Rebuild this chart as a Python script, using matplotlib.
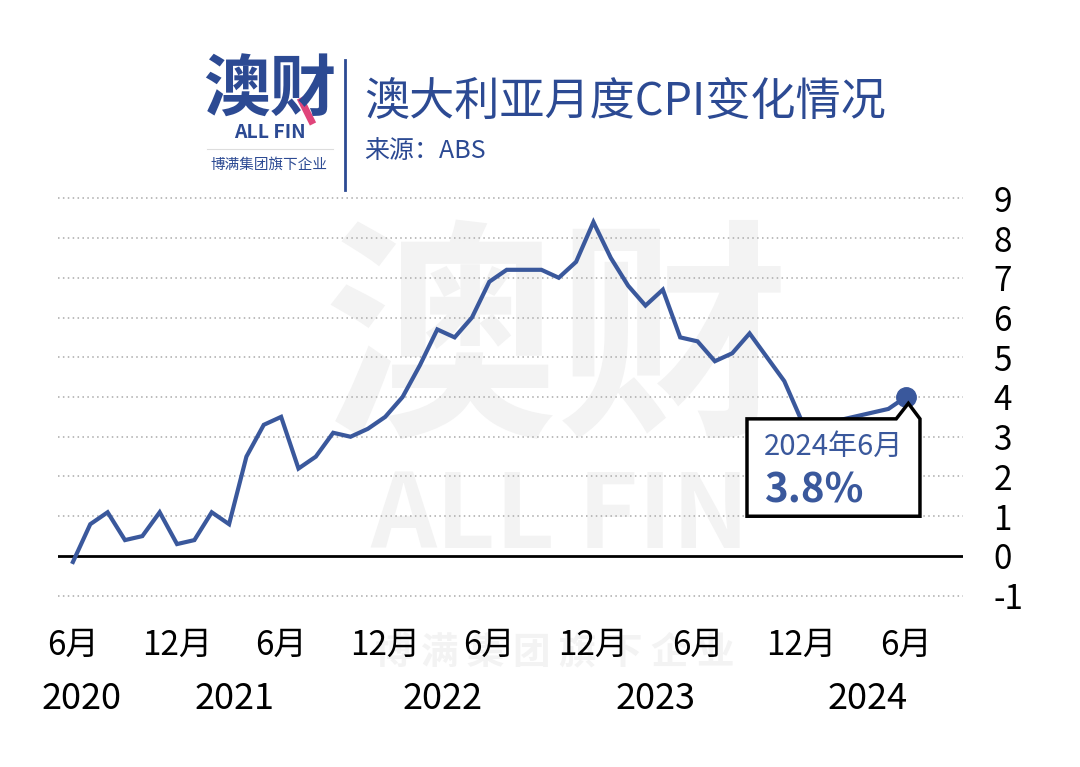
import matplotlib
matplotlib.use("Agg")
import matplotlib.pyplot as plt
from matplotlib.patches import Polygon
from matplotlib.transforms import blended_transform_factory

plt.rcParams['font.family'] = ['Noto Sans CJK SC', 'DejaVu Sans']

# monthly CPI, Jun 2020 .. Jun 2024
months = ["2020-06", "2020-07", "2020-08", "2020-09", "2020-10", "2020-11", "2020-12",
          "2021-01", "2021-02", "2021-03", "2021-04", "2021-05", "2021-06",
          "2021-07", "2021-08", "2021-09", "2021-10", "2021-11", "2021-12",
          "2022-01", "2022-02", "2022-03", "2022-04", "2022-05", "2022-06",
          "2022-07", "2022-08", "2022-09", "2022-10", "2022-11", "2022-12",
          "2023-01", "2023-02", "2023-03", "2023-04", "2023-05", "2023-06",
          "2023-07", "2023-08", "2023-09", "2023-10", "2023-11", "2023-12",
          "2024-01", "2024-02", "2024-03", "2024-04", "2024-05", "2024-06"]
cpi = [-0.15, 0.8, 1.1, 0.4, 0.5, 1.1, 0.3,
       0.4, 1.1, 0.8, 2.5, 3.3, 3.5,
       2.2, 2.5, 3.1, 3.0, 3.2, 3.5,
       4.0, 4.8, 5.7, 5.5, 6.0, 6.9,
       7.2, 7.2, 7.2, 7.0, 7.4, 8.4,
       7.5, 6.8, 6.3, 6.7, 5.5, 5.4,
       4.9, 5.1, 5.6, 5.0, 4.4, 3.4,
       3.4, 3.4, 3.5, 3.6, 3.7, 4.0]

month_ticks = ["2020-06", "2020-12", "2021-06", "2021-12", "2022-06",
               "2022-12", "2023-06", "2023-12", "2024-06"]
month_labels = ["6月", "12月", "6月", "12月", "6月", "12月", "6月", "12月", "6月"]
year_labels = ["2020", "2021", "2022", "2023", "2024"]
year_pos = [0.5, 9.3, 21.3, 33.6, 45.8]   # x position (month index) of the year row
y_ticks = [-1, 0, 1, 2, 3, 4, 5, 6, 7, 8, 9]

callout_date = "2024年6月"
callout_value = "3.8%"

BLUE = "#3a589c"
TITLE_BLUE = "#2c4a93"
WM = "#f3f3f3"

W, H = 1080, 767
fig = plt.figure(figsize=(W / 100, H / 100), dpi=100)
fig.patch.set_facecolor("white")


def px(x, y):
    return x / W, 1 - y / H


# watermark (behind the chart)
fig.text(*px(557, 350), "澳财", fontsize=168, fontweight="heavy", color=WM,
         ha="center", va="center", zorder=-5)
fig.text(*px(560, 518), "ALL FIN", fontsize=74, fontweight="heavy", color=WM,
         ha="center", va="center", zorder=-5)
fig.text(*px(555, 652), "博 满 集 团 旗 下 企 业", fontsize=27, fontweight="heavy",
         color=WM, ha="center", va="center", zorder=-5)

# header / logo
fig.text(*px(270, 91), "澳财", fontsize=48, fontweight="heavy", color=TITLE_BLUE,
         ha="center", va="center")
fig.add_artist(plt.Line2D([300 / W, 313 / W], [1 - 98 / H, 1 - 124 / H],
                          color="#e0457b", lw=5, solid_capstyle="butt"))
fig.text(*px(270, 133), "ALL FIN", fontsize=14, fontweight="bold", color=TITLE_BLUE,
         ha="center", va="center")
fig.add_artist(plt.Line2D([207 / W, 333 / W], [1 - 149 / H, 1 - 149 / H],
                          color="#dddddd", lw=0.8))
fig.text(*px(269, 165), "博满集团旗下企业", fontsize=10.5, color=TITLE_BLUE,
         ha="center", va="center")
fig.add_artist(plt.Line2D([345 / W, 345 / W], [1 - 60 / H, 1 - 190 / H],
                          color=TITLE_BLUE, lw=2))
fig.text(*px(364, 102), "澳大利亚月度CPI变化情况", fontsize=32.5, fontweight="medium",
         color=TITLE_BLUE, ha="left", va="center")
fig.text(*px(364, 151), "来源：ABS", fontsize=18, color=TITLE_BLUE,
         ha="left", va="center")

# chart
ax = fig.add_axes([58 / W, 0.2181, 905 / W, 0.7467 - 0.2181])
ax.set_zorder(1)
ax.patch.set_alpha(0)
x = list(range(len(months)))
ax.set_xlim(-0.86, 51.3)
ax.set_ylim(-1.1, 9.1)

for v in y_ticks:
    if v == 0:
        ax.axhline(0, color="black", lw=2, zorder=2)
    else:
        ax.axhline(v, color="#aaaaaa", lw=1.1, ls=(0, (1, 2.2)), zorder=1)

ax.plot(x, cpi, color=BLUE, lw=3, zorder=3, solid_joinstyle="miter")
ax.plot(x[-1], cpi[-1], "o", color=BLUE, ms=14, zorder=4)

# callout box with notch pointing at the last point
lx = x[-1]
box = Polygon([(lx - 9.15, 3.45), (lx - 0.55, 3.45), (lx + 0.15, 3.84),
               (lx + 0.82, 3.45), (lx + 0.82, 1.0), (lx - 9.15, 1.0)],
              closed=True, facecolor="white", edgecolor="black", lw=2.5, zorder=5)
ax.add_patch(box)
ax.text(lx - 8.15, 2.74, callout_date, fontsize=21, color=BLUE,
        ha="left", va="center", zorder=6)
ax.text(lx - 8.15, 1.64, callout_value, fontsize=29, fontweight="bold", color=BLUE,
        ha="left", va="center", zorder=6)

# axes / ticks
for s in ax.spines.values():
    s.set_visible(False)
ax.yaxis.tick_right()
ax.set_yticks(y_ticks)
ax.set_yticklabels([str(v) for v in y_ticks], fontsize=24)
ax.tick_params(axis="y", length=0, pad=22)
ax.set_xticks([months.index(m) for m in month_ticks])
ax.set_xticklabels(month_labels, fontsize=24)
ax.tick_params(axis="x", length=0, pad=20)

tr = blended_transform_factory(ax.transData, ax.transAxes)
for lab, pos in zip(year_labels, year_pos):
    ax.text(pos, -0.245, lab, transform=tr, fontsize=26, ha="center", va="center",
            color="black")

fig.savefig("out.png", dpi=100, facecolor="white")
